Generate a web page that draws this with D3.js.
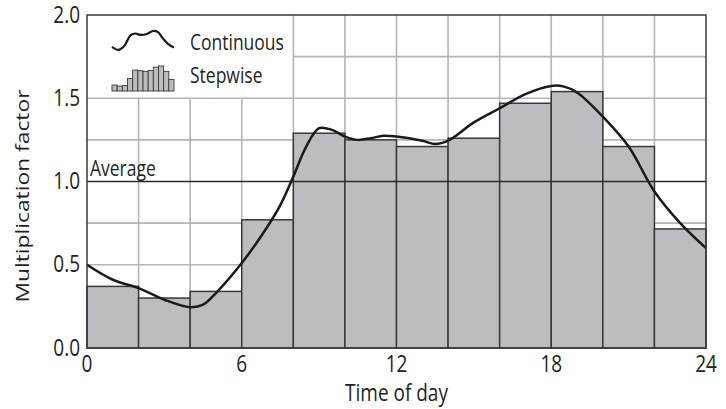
<!DOCTYPE html>
<html><head><meta charset="utf-8">
<script src="https://cdn.jsdelivr.net/npm/d3@7"></script>
<style>
body{margin:0;background:#fff;}
svg text{font-family:"Open Sans",Lato,sans-serif;fill:#231f20;}
</style></head>
<body><svg id="c" width="726" height="409"></svg>
<script>
// Data
const stepStarts = [0,2,4,6,8,10,12,14,16,18,20,22];
const stepValues = [0.37,0.30,0.34,0.77,1.29,1.25,1.21,1.26,1.47,1.54,1.21,0.715];
const curveHours = [0,1,2,3,4,4.5,5,6,7,7.5,8,8.5,9,9.5,10,10.5,11,11.5,12,13,13.5,14,15,16,17,18,18.5,19,20,21,22,23,24];
const curveValues = [0.50,0.41,0.36,0.29,0.245,0.26,0.33,0.51,0.73,0.86,1.03,1.21,1.32,1.31,1.27,1.25,1.26,1.275,1.27,1.245,1.225,1.245,1.355,1.44,1.525,1.574,1.57,1.535,1.39,1.21,0.94,0.75,0.60];
const xTicks = [0,6,12,18,24];
const yTicks = [0,0.5,1.0,1.5,2.0];
const gridY = [0.25,0.5,0.75,1.25,1.5,1.75];
const gridX = [2,4,6,8,10,12,14,16,18,20,22];
const averageValue = 1.0;
const legendLabels = ["Continuous","Stepwise"];
// legend icon squiggle (icon units 0..1)
const iconX = [0,0.1,0.2,0.3,0.38,0.45,0.56,0.66,0.74,0.82,0.92,1];
const iconY = [0.25,0.1,0.3,0.8,0.88,0.82,0.86,1.0,0.95,0.65,0.35,0.22];

const svg = d3.select("#c");
const L=87, R=706, T=15, B=348;
const SY = 1.2; // vertical stretch of lettering
const x = d3.scaleLinear().domain([0,24]).range([L,R]);
const y = d3.scaleLinear().domain([0,2]).range([B,T]);

function label(px, py, str, size, anchor){
  return svg.append("g").attr("transform",`translate(${px},${py}) scale(1,${SY})`)
    .append("text").attr("text-anchor",anchor||"start").attr("font-size",size).text(str);
}

// grid
svg.append("g").selectAll("line").data(gridY).join("line")
  .attr("x1",L).attr("x2",R).attr("y1",d=>y(d)).attr("y2",d=>y(d))
  .attr("stroke","#b5b5b5").attr("stroke-width",1.6);
svg.append("g").selectAll("line").data(gridX).join("line")
  .attr("x1",d=>x(d)).attr("x2",d=>x(d)).attr("y1",T).attr("y2",B)
  .attr("stroke","#b5b5b5").attr("stroke-width",1.6);

// legend background (covers grid)
svg.append("rect").attr("x",L).attr("y",T).attr("width",x(8)-L).attr("height",y(1.5)-T)
  .attr("fill","#fff");
svg.append("line").attr("x1",x(8)).attr("x2",x(8)).attr("y1",T).attr("y2",y(1.5))
  .attr("stroke","#b5b5b5").attr("stroke-width",1.6);
svg.append("line").attr("x1",L).attr("x2",x(8)).attr("y1",y(1.5)).attr("y2",y(1.5))
  .attr("stroke","#b5b5b5").attr("stroke-width",1.6);

// bars
svg.append("g").selectAll("rect").data(stepStarts).join("rect")
  .attr("x",d=>x(d)).attr("width",d=>x(d+2)-x(d))
  .attr("y",(d,i)=>y(stepValues[i])).attr("height",(d,i)=>B-y(stepValues[i]))
  .attr("fill","#bcbdc0").attr("stroke","#3a3a3a").attr("stroke-width",1.5);

// average line
svg.append("line").attr("x1",L).attr("x2",R).attr("y1",y(averageValue)).attr("y2",y(averageValue))
  .attr("stroke","#2a2a2a").attr("stroke-width",1.5);
label(L+3, y(averageValue)-5.5, "Average", 17.5);

// curve
const line = d3.line().x((d,i)=>x(curveHours[i])).y((d,i)=>y(curveValues[i])).curve(d3.curveCatmullRom.alpha(0.5));
svg.append("path").datum(curveValues).attr("d",line).attr("fill","none")
  .attr("stroke","#1a1a1a").attr("stroke-width",2.5);

// frame
svg.append("rect").attr("x",L).attr("y",T).attr("width",R-L).attr("height",B-T)
  .attr("fill","none").attr("stroke","#3a3a3a").attr("stroke-width",1.5);

// legend icons
const ix = d3.scaleLinear().domain([0,1]).range([112,174]);
const iy = d3.scaleLinear().domain([0,1]).range([52,31]);
svg.append("path").datum(iconY).attr("fill","none").attr("stroke","#1a1a1a").attr("stroke-width",2.2)
  .attr("d",d3.line().x((d,i)=>ix(iconX[i])).y(d=>iy(d)).curve(d3.curveCatmullRom));
const sx = d3.scaleLinear().domain([0,24]).range([112,174]);
const sy = d3.scaleLinear().domain([0,1.54]).range([91,66]);
svg.append("g").selectAll("rect").data(stepStarts).join("rect")
  .attr("x",d=>sx(d)).attr("width",d=>sx(d+2)-sx(d))
  .attr("y",(d,i)=>sy(stepValues[i])).attr("height",(d,i)=>91-sy(stepValues[i]))
  .attr("fill","#bcbdc0").attr("stroke","#3a3a3a").attr("stroke-width",0.9);
label(190, 50, legendLabels[0], 17.5);
label(190, 83, legendLabels[1], 17.5);

// y ticks
yTicks.forEach(d=>label(80, y(d)+7.5, d3.format(".1f")(d), 19, "end"));
// x ticks
xTicks.forEach(d=>label(x(d), 372, String(d), 19, "middle"));
label(x(12), 400.5, "Time of day", 19, "middle");
svg.append("g").attr("transform",`translate(29,196) rotate(-90) scale(${SY},1)`)
  .append("text").attr("text-anchor","middle").attr("font-size",19).text("Multiplication factor");
</script></body></html>
